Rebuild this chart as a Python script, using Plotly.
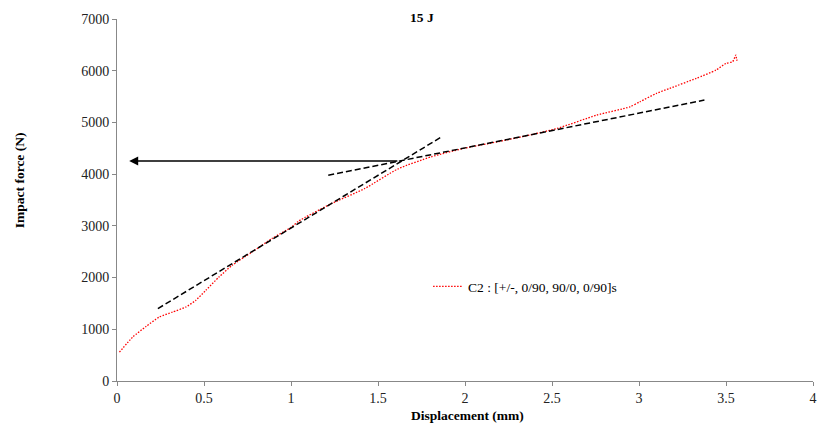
import plotly.graph_objects as go

# Red measured curve: displacement (mm), impact force (N)
disp = [0.014, 0.09, 0.167, 0.243, 0.319, 0.395, 0.452, 0.51, 0.586, 0.662, 0.776, 0.89, 1.004,
        1.043, 1.233, 1.424, 1.614, 1.805, 1.995, 2.186, 2.35, 2.529, 2.757, 2.948, 3.005, 3.1,
        3.176, 3.329, 3.443, 3.5, 3.538, 3.557, 3.562, 3.567]
force = [558, 848, 1055, 1236, 1333, 1430, 1559, 1752, 2010, 2237, 2494, 2753, 2978,
         3090, 3431, 3722, 4100, 4334, 4500, 4625, 4740, 4884, 5141, 5302, 5399, 5561,
         5658, 5852, 6013, 6142, 6174, 6303, 6200, 6239]

# Tangent lines (dashed)
tan1_x = [0.235, 1.865]
tan1_y = [1400, 4720]
tan2_x = [1.214, 3.376]
tan2_y = [3979, 5432]

# Arrow (from intersection to y-axis)
arrow_x = [1.62, 0.07]
arrow_y = [4256, 4256]

series_name = "C2 : [+/-, 0/90, 90/0, 0/90]s"
x_ticks = [0, 0.5, 1, 1.5, 2, 2.5, 3, 3.5, 4]
x_tick_text = ["0", "0.5", "1", "1.5", "2", "2.5", "3", "3.5", "4"]
y_ticks = [0, 1000, 2000, 3000, 4000, 5000, 6000, 7000]

FONT = "Liberation Serif"

fig = go.Figure()
fig.add_trace(go.Scatter(x=disp, y=force, mode="lines", name=series_name,
                         line=dict(color="red", width=1.3, dash="1.5px,1.5px", shape="spline", smoothing=0.6)))
fig.add_trace(go.Scatter(x=tan1_x, y=tan1_y, mode="lines", showlegend=False,
                         line=dict(color="black", width=1.5, dash="6px,3px")))
fig.add_trace(go.Scatter(x=tan2_x, y=tan2_y, mode="lines", showlegend=False,
                         line=dict(color="black", width=1.5, dash="6px,3px")))

fig.add_annotation(x=arrow_x[1], y=arrow_y[1], ax=arrow_x[0], ay=arrow_y[0],
                   xref="x", yref="y", axref="x", ayref="y", text="",
                   showarrow=True, arrowhead=2, arrowsize=1.2, arrowwidth=1.5, arrowcolor="black")

title_font = dict(family=FONT, size=13.5, color="black")
fig.add_annotation(x=0.438, xref="paper", y=1.0028, yref="paper", yanchor="middle", xanchor="center",
                   text="<b>15 J</b>", showarrow=False, font=title_font)
fig.add_annotation(x=-0.1408, xref="paper", y=0.5546, yref="paper", yanchor="middle", xanchor="center",
                   text="<b>Impact force (N)</b>", textangle=-90, showarrow=False, font=title_font)
fig.add_annotation(x=0.503, xref="paper", y=-0.0954, yref="paper", yanchor="middle", xanchor="center",
                   text="<b>Displacement (mm)</b>", showarrow=False, font=title_font)

fig.update_layout(
    width=825, height=427,
    margin=dict(l=117, r=8, t=19, b=46),
    paper_bgcolor="white", plot_bgcolor="white",
    font=dict(family=FONT, size=14, color="#222"),
    legend=dict(x=0.447, y=0.261, xanchor="left", yanchor="middle",
                bgcolor="rgba(0,0,0,0)", itemwidth=30,
                font=dict(family=FONT, size=13.5, color="black")),
    xaxis=dict(range=[0, 4], tickvals=x_ticks, ticktext=x_tick_text,
               showgrid=False, zeroline=False, showline=True, linecolor="#888", linewidth=1,
               ticks="outside", ticklen=4, tickcolor="#888",
               tickfont=dict(family=FONT, size=14, color="#222")),
    yaxis=dict(range=[0, 7000], tickvals=y_ticks,
               showgrid=False, zeroline=False, showline=True, linecolor="#888", linewidth=1,
               ticks="outside", ticklen=4, tickcolor="#888",
               tickfont=dict(family=FONT, size=14, color="#222")),
)

fig.write_html("out.html")
